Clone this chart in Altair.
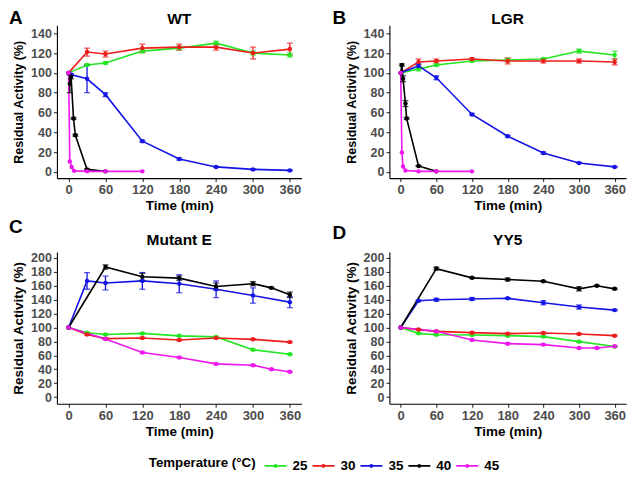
import altair as alt
import pandas as pd

FONT = "Liberation Sans"
TEMPS = ["25", "30", "35", "40", "45"]
COLORS = ["#22e622", "#ee1c1c", "#1414e6", "#000000", "#ee18ee"]

X_TICKS = [0, 60, 120, 180, 240, 300, 360]
Y_TICKS_TOP = [0, 20, 40, 60, 80, 100, 120, 140]
Y_TICKS_BOT = [0, 20, 40, 60, 80, 100, 120, 140, 160, 180, 200]

T_STD = [0, 30, 60, 120, 180, 240, 300, 360]
T_LATE = [0, 60, 120, 180, 240, 300, 330, 360]

# ---- A: WT ----
WT_25 = [100, 108, 110, 122, 125, 130, 120, 118]
WT_25_ERR = [0, 1, 1, 2, 2, 2, 2, 2]
WT_30 = [100, 121, 119, 125, 126, 126, 120, 124]
WT_30_ERR = [0, 4, 3, 4, 3, 3, 6, 6]
WT_35_T = [0, 5, 30, 60, 120, 180, 240, 300, 360]
WT_35 = [100, 98, 94, 78, 31, 13, 5, 2.5, 1.5]
WT_35_ERR = [0, 0, 14, 2, 1, 1, 0.5, 0.5, 0.5]
WT_40_T = [0, 2, 4, 8, 11, 30, 60]
WT_40 = [100, 89, 96, 54, 37, 2.5, 0.5]
WT_40_ERR = [0, 9, 2, 1, 1, 0.5, 0]
WT_45_T = [0, 2, 5, 9, 30, 60, 120]
WT_45 = [100, 10.5, 5, 1, 0.5, 0.5, 0.5]
WT_45_ERR = [0, 0, 0, 0, 0, 0, 0]

# ---- B: LGR ----
LGR_25 = [100, 104, 108, 112, 113, 114, 122, 118]
LGR_25_ERR = [0, 2, 1, 1, 2, 1, 2, 4]
LGR_30 = [100, 111, 112, 114, 112, 112, 112, 111]
LGR_30_ERR = [0, 3, 2, 1, 3, 2, 2, 3]
LGR_35 = [100, 107, 95, 58, 36, 19, 9, 5]
LGR_35_ERR = [0, 2, 2, 1, 1, 1, 0.5, 0.5]
LGR_40_T = [0, 2, 4, 8, 10, 30, 60]
LGR_40 = [100, 108, 94, 69, 54, 6, 0.5]
LGR_40_ERR = [0, 1, 3, 3, 1, 0.5, 0]
LGR_45_T = [0, 2, 4, 8, 30, 60, 120]
LGR_45 = [100, 19.5, 5.5, 1.3, 0.5, 0.5, 0.5]
LGR_45_ERR = [0, 0, 0, 0, 0, 0, 0]

# ---- C: Mutant E ----
ME_25 = [100, 92.5, 90, 91.5, 88, 86.5, 68, 61.5]
ME_25_ERR = [0, 1, 1, 1, 1, 1, 1, 1]
ME_30 = [100, 90, 84, 85, 82, 85, 83, 79]
ME_30_ERR = [0, 1, 1, 1, 1, 1, 1, 1]
ME_35 = [100, 167, 164, 167, 163, 155, 146, 136.5]
ME_35_ERR = [0, 12, 10, 12, 13, 12, 11, 8]
ME_40 = [100, 187, 173, 171, 159, 163, 157, 147]
ME_40_ERR = [0, 3, 5, 3, 5, 3, 1, 4]
ME_45 = [100, 83.5, 64, 57, 47.7, 45.8, 40, 36.3]
ME_45_ERR = [0, 1, 1, 1, 1, 1, 1, 1]

# ---- D: YY5 ----
YY_25 = [100, 91.6, 89.7, 89.3, 88.3, 86.9, 79.7, 72.6]
YY_25_ERR = [0, 1, 1, 1, 1, 1, 1, 1]
YY_30 = [100, 97, 94.5, 92.6, 91.2, 92, 90.7, 88.3]
YY_30_ERR = [0, 1, 1, 1, 1, 1, 1, 1]
YY_35 = [100, 138.4, 140, 141, 142, 135.6, 129.4, 125]
YY_35_ERR = [0, 1, 2, 2, 1, 3, 3, 1]
YY_40 = [100, 184.7, 171.4, 169, 166.6, 155.6, 160, 155.6]
YY_40_ERR = [0, 2, 1, 2, 1, 3, 1, 1]
YY_45 = [100, 94.5, 82, 76.8, 75.4, 70.6, 70.6, 73]
YY_45_ERR = [0, 1, 1, 1, 1, 1, 1, 1]

SERIES = [
    ("A", "25", T_STD, WT_25, WT_25_ERR),
    ("A", "30", T_STD, WT_30, WT_30_ERR),
    ("A", "35", WT_35_T, WT_35, WT_35_ERR),
    ("A", "40", WT_40_T, WT_40, WT_40_ERR),
    ("A", "45", WT_45_T, WT_45, WT_45_ERR),
    ("B", "25", T_STD, LGR_25, LGR_25_ERR),
    ("B", "30", T_STD, LGR_30, LGR_30_ERR),
    ("B", "35", T_STD, LGR_35, LGR_35_ERR),
    ("B", "40", LGR_40_T, LGR_40, LGR_40_ERR),
    ("B", "45", LGR_45_T, LGR_45, LGR_45_ERR),
    ("C", "25", T_STD, ME_25, ME_25_ERR),
    ("C", "30", T_STD, ME_30, ME_30_ERR),
    ("C", "35", T_STD, ME_35, ME_35_ERR),
    ("C", "40", T_LATE, ME_40, ME_40_ERR),
    ("C", "45", T_LATE, ME_45, ME_45_ERR),
    ("D", "25", T_STD, YY_25, YY_25_ERR),
    ("D", "30", T_STD, YY_30, YY_30_ERR),
    ("D", "35", T_STD, YY_35, YY_35_ERR),
    ("D", "40", T_LATE, YY_40, YY_40_ERR),
    ("D", "45", T_LATE, YY_45, YY_45_ERR),
]

rows = []
for panel, temp, ts, vs, es in SERIES:
    for t, v, e in zip(ts, vs, es):
        rows.append({"panel": panel, "temp": temp, "time": t, "value": v,
                     "err": e, "lo": v - e, "hi": v + e})
df = pd.DataFrame(rows)

cscale = alt.Scale(domain=TEMPS, range=COLORS)

LEGEND = alt.Legend(
    orient="none", legendX=92, legendY=429, direction="horizontal",
    title="Temperature (°C)", titleOrient="left", titleFont=FONT,
    titleFontSize=13.3, titleFontWeight="bold", titleColor="#000000",
    titlePadding=7, titleBaseline="middle",
    labelFont=FONT, labelFontSize=13.5, labelFontWeight="bold",
    labelColor="#000000", labelOffset=5, columnPadding=0,
    symbolType="M-1,0L1,0M0.1,0A0.1,0.1,0,1,1,-0.1,0A0.1,0.1,0,1,1,0.1,0",
    symbolSize=484, symbolStrokeWidth=1.6, symbolFillColor="transparent",
)

H_TOP, H_BOT = 153, 152
XDOM = [-19, 379]


def panel(name, letter, title, ydom, yticks, width, height, ytitle_size,
          lx, ly, ty):
    base = alt.Chart(df).transform_filter(alt.datum.panel == name)
    xs = alt.Scale(domain=XDOM, nice=False, zero=False)
    ys = alt.Scale(domain=ydom, nice=False, zero=False)
    xax = alt.Axis(values=X_TICKS, title="Time (min)", grid=False)
    yax = alt.Axis(values=yticks, title="Residual Activity (%)", grid=False,
                   titleFontSize=ytitle_size)

    def X():
        return alt.X("time:Q", scale=xs, axis=xax)

    def Y(f):
        return alt.Y(f + ":Q", scale=ys, axis=yax)

    line = base.mark_line(strokeWidth=1.6).encode(
        x=X(), y=Y("value"),
        color=alt.Color("temp:N", scale=cscale, legend=LEGEND),
    )
    errs = base.transform_filter(alt.datum.err > 0)
    bars = errs.mark_rule(strokeWidth=1.3).encode(
        x=X(), y=Y("lo"), y2="hi:Q",
        stroke=alt.Stroke("temp:N", scale=cscale, legend=None),
    )
    caps = errs.transform_fold(["lo", "hi"], as_=["k", "cap"]).mark_tick(
        orient="horizontal", size=6, thickness=1.3
    ).encode(
        x=X(), y=Y("cap"),
        fill=alt.Fill("temp:N", scale=cscale, legend=None),
    )
    pts = base.mark_circle(size=20, opacity=1).encode(
        x=X(), y=Y("value"),
        fill=alt.Fill("temp:N", scale=cscale, legend=None),
    )
    lab = alt.Chart(pd.DataFrame({"s": [letter]})).mark_text(
        font=FONT, fontSize=19, fontWeight="bold", align="left",
        baseline="top", color="#000000"
    ).encode(x=alt.value(lx), y=alt.value(ly), text="s:N")
    ttl = alt.Chart(pd.DataFrame({"s": [title]})).mark_text(
        font=FONT, fontSize=15.5, fontWeight="bold", align="center",
        baseline="alphabetic", color="#000000"
    ).encode(x=alt.value(width / 2), y=alt.value(ty), text="s:N")
    return alt.layer(line, bars, caps, pts, lab, ttl).properties(
        width=width, height=height)


W1, W2 = 245, 237
pA = panel("A", "A", "WT", [-6.3, 148], Y_TICKS_TOP, W1, H_TOP, 12.5,
           -48, -16, -1)
pB = panel("B", "B", "LGR", [-6.3, 148], Y_TICKS_TOP, W2, H_TOP, 12.5,
           -57, -16, -1)
pC = panel("C", "C", "Mutant E", [-9.6, 208.6], Y_TICKS_BOT, W1, H_BOT,
           13.5, -48, -34, -7)
pD = panel("D", "D", "YY5", [-9.6, 208.6], Y_TICKS_BOT, W2, H_BOT,
           13.5, -57, -28, -7)

chart = alt.concat(
    pA, pB, pC, pD, columns=2,
    spacing=alt.RowColnumber(row=74, column=88), bounds="flush",
).properties(
    padding=0
).configure_view(stroke="transparent").configure_axis(
    domainColor="#000000", domainWidth=1.1, tickColor="#333333",
    tickSize=3.5, tickWidth=1.1,
    labelFont=FONT, labelFontWeight="bold", labelColor="#4d4d4d",
    titleFont=FONT, titleFontWeight="bold", titleColor="#000000",
).configure_axisX(
    labelFontSize=13, labelPadding=2, titleFontSize=13.5, titlePadding=2,
).configure_axisY(
    labelFontSize=12.5, labelPadding=2, titlePadding=5,
)

chart.save("out.html", embed_options={"renderer": "svg", "actions": False})
